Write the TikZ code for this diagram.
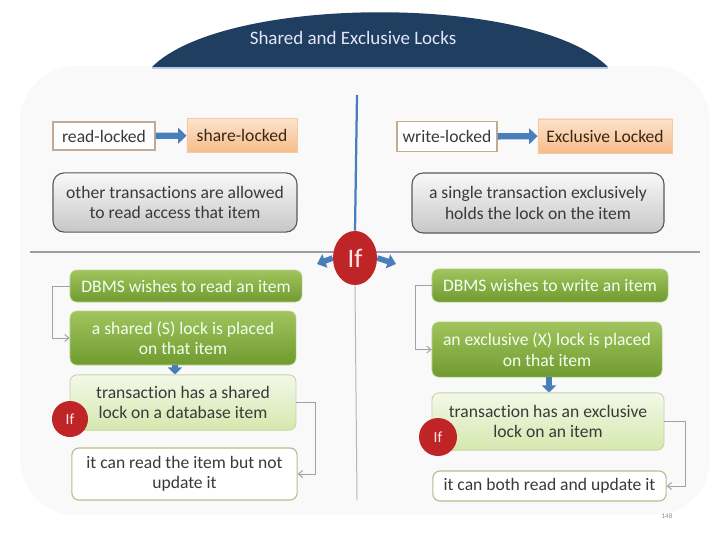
\documentclass[tikz,border=0pt]{standalone}
\usepackage{fontspec}
\setmainfont{Carlito}[Ligatures=NoCommon]
\usepackage{xcolor}
\usetikzlibrary{arrows.meta,positioning,calc,shapes.geometric}

\definecolor{bannerblue}{HTML}{1F3E60}
\definecolor{lockblue}{HTML}{4A7EBB}
\definecolor{greenA}{HTML}{A2C45E}
\definecolor{greenB}{HTML}{6F9B2F}
\definecolor{paleA}{HTML}{F3F8E8}
\definecolor{paleB}{HTML}{D5E8AE}
\definecolor{orangeA}{HTML}{FCE3CD}
\definecolor{orangeB}{HTML}{F6BC8A}
\definecolor{ifred}{HTML}{BF2527}
\definecolor{txt}{HTML}{3A3A3A}
\definecolor{linkgray}{HTML}{9AA4AE}

\tikzset{
  every node/.style={font=\fontsize{12.5}{14.5}\selectfont, text=txt, align=center},
  termbox/.style={draw=black!25!orange!40!gray!60, fill=white, line width=0.8pt, inner sep=2pt},
  lockbox/.style={draw=orangeB!80!white, top color=orangeA, bottom color=orangeB, line width=0.6pt, inner sep=2pt},
  notebox/.style={draw=black!65, rounded corners=8pt, top color=white!95!gray, bottom color=black!22, line width=0.8pt},
  stepbox/.style={rounded corners=5pt, top color=greenA, bottom color=greenB, draw=greenA!70!white, text=white!95!green},
  condbox/.style={rounded corners=5pt, top color=paleA, bottom color=paleB, draw=paleB!80!gray, line width=0.6pt},
  resbox/.style={rounded corners=5pt, fill=white, draw=olive!40!gray!60, line width=0.8pt},
  ifmark/.style={ellipse, fill=ifred, inner sep=0pt, text=red!10!white},
  fatarrow/.style={lockblue, line width=4.5pt, -{Triangle[width=11pt,length=6pt]}},
  link/.style={linkgray, line width=0.7pt, -{Straight Barb[length=3pt,width=5pt]}}
}

\begin{document}
\begin{tikzpicture}[x=0.025cm,y=-0.025cm]
\useasboundingbox (0,0) rectangle (720,540);
\fill[white] (0,0) rectangle (720,540);
% background panel
\fill[black!2.5, rounded corners=40pt] (20,66) rectangle (710,515);

% title banner
\fill[bannerblue] (152,67) .. controls (225,-6) and (535,-6) .. (608,67) -- cycle;
\draw[lockblue!40!white, line width=0.8pt] (152,68) -- (608,68);
\node[text=black!10!blue!10!white, font=\fontsize{13.5}{15}\selectfont] (title) at (353,38) {Shared and Exclusive Locks};

% dividing lines
\coordinate (vtop) at (357,95);
\coordinate (vbot) at (357,500);
\coordinate (hleft) at (30,252);
\coordinate (hright) at (700,252);
\draw[black!30!blue!10!gray!70, line width=0.8pt] (hleft) -- (hright);

\node[ifmark, minimum width=1.1cm, minimum height=1.35cm, font=\fontsize{19}{21}\selectfont] (ifmid) at (355,258) {If};
\draw[lockblue, line width=1.6pt] (vtop) -- (ifmid.north);
\draw[linkgray!80, line width=0.7pt] (ifmid.south) -- (vbot);
\coordinate (lefttip) at (317,264);
\coordinate (righttip) at (396,264);
\draw[lockblue, line width=4pt, -{Triangle[width=10pt,length=6pt]}] (ifmid.west) -- (lefttip);
\draw[lockblue, line width=4pt, -{Triangle[width=10pt,length=6pt]}] (ifmid.east) -- (righttip);

% shared side, top
\node[termbox, minimum width=2.55cm, minimum height=0.7cm] (readl) at (104,136) {read-locked};
\node[lockbox, minimum width=2.75cm, minimum height=0.83cm, text=black!70!brown] (sharel) at (242,135.5) {share-locked};
\draw[fatarrow] (readl) -- (sharel);
\node[notebox, minimum width=6.1cm, minimum height=1.48cm] (otherd) at (175,202.5) {other transactions are allowed\\to read access that item};

% exclusive side, top
\node[termbox, minimum width=2.5cm, minimum height=0.73cm] (writel) at (447,136.5) {write-locked};
\node[lockbox, minimum width=3.35cm, minimum height=0.85cm, text=black!70!brown] (excll) at (605,136) {Exclusive Locked};
\draw[fatarrow] (writel) -- (excll);
\node[notebox, minimum width=6.3cm, minimum height=1.5cm] (singled) at (538,203) {a single transaction exclusively\\holds the lock on the item};

% shared side, steps
\node[stepbox, minimum width=5.8cm, minimum height=0.8cm] (rdbms) at (186,286) {DBMS wishes to read an item};
\node[stepbox, minimum width=5.65cm, minimum height=1.35cm] (rslock) at (183,338) {a shared (S) lock is placed\\on that item};
\node[condbox, minimum width=5.65cm, minimum height=1.38cm] (rtrans) at (183,402.5) {transaction has a shared\\lock on a database item};
\node[resbox, minimum width=5.63cm, minimum height=1.3cm] (rresult) at (184.5,474) {it can read the item but not\\update it};
\node[ifmark, minimum size=0.9cm, font=\fontsize{11}{13}\selectfont] (ifleft) at (70,419) {If};
\draw[lockblue, line width=4pt, -{Triangle[width=10pt,length=5pt]}] (rslock.south -| 175,0) -- (rtrans.north -| 175,0);
\draw[link] (rdbms.west) -- ++(-17,0) |- (rslock.west);
\draw[link] (rtrans.east) -- ++(19,0) |- (rresult.east);

% exclusive side, steps
\node[stepbox, minimum width=5.9cm, minimum height=0.83cm] (wdbms) at (550,285.5) {DBMS wishes to write an item};
\node[stepbox, minimum width=5.75cm, minimum height=1.38cm] (wxlock) at (547,349.5) {an exclusive (X) lock is placed\\on that item};
\node[condbox, minimum width=5.8cm, minimum height=1.43cm] (wtrans) at (548,421.5) {transaction has an exclusive\\lock on an item};
\node[resbox, minimum width=5.83cm, minimum height=0.75cm] (wresult) at (549.5,486) {it can both read and update it};
\node[ifmark, minimum size=0.95cm, font=\fontsize{11}{13}\selectfont] (ifright) at (438,437) {If};
\draw[lockblue, line width=4pt, -{Triangle[width=10pt,length=5pt]}] (wxlock.south -| 549,0) -- (wtrans.north -| 549,0);
\draw[link] (wdbms.west) -- ++(-16,0) |- (wxlock.west);
\draw[link] (wtrans.east) -- ++(21,0) |- (wresult.east);

\node[text=black!45, font=\tiny] (pagenum) at (667,516) {148};
\end{tikzpicture}
\end{document}
